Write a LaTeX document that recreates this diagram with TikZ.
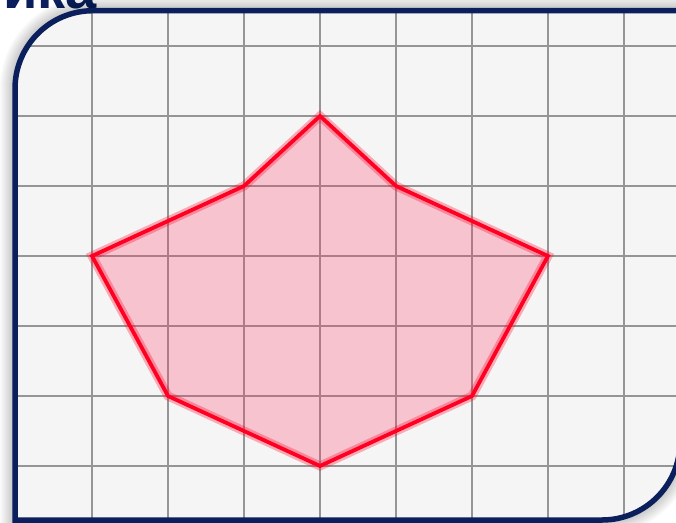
\documentclass[tikz,border=0pt]{standalone}
\usepackage{fontspec}
\setmainfont{Liberation Sans}
\definecolor{navy}{HTML}{0A1F5C}
\definecolor{gridc}{HTML}{959595}
\definecolor{panel}{HTML}{F5F5F5}
\definecolor{polyred}{HTML}{FF0022}
\definecolor{polyfill}{HTML}{FF3060}
\tikzset{
  gridline/.style={draw=gridc, line width=1.5pt},
  frame/.style={draw=navy, line width=5.5pt},
  polyglow/.style={draw=polyred, line width=9pt, opacity=0.3, line join=miter},
  polycore/.style={draw=polyred, line width=3.8pt, line join=miter},
  polyarea/.style={fill=polyfill, fill opacity=0.25},
  titletext/.style={text=navy, font=\bfseries\fontsize{56}{56}\selectfont, inner sep=0pt}
}
\def\boxpath{(15,520) -- (15,88.7) arc[start angle=180, end angle=270, radius=78] -- (680,10.7) -- (680,442) arc[start angle=0, end angle=90, radius=78] -- cycle}
\begin{document}
\begin{tikzpicture}[x=1pt,y=-1pt]
\useasboundingbox (0,0) rectangle (676,522);
\clip (0,0) rectangle (676,522);
\fill[white] (0,0) rectangle (676,522);
% title fragment (cut off by the top edge, as in the reference)
\node[titletext, anchor=base east] (title) at (97,9) {ика};
% soft shadow
\foreach \w in {3,6,...,30} {
  \draw[black, opacity=0.025, line width=\w pt] \boxpath;
}
% panel
\fill[panel] \boxpath;
% grid
\begin{scope}
  \clip \boxpath;
  \foreach \x in {16,92,...,700} { \draw[gridline] (\x,0) -- (\x,530); }
  \foreach \y in {46,116,...,540} { \draw[gridline] (0,\y) -- (700,\y); }
\end{scope}
% polygon
\coordinate (p1) at (320,116);
\coordinate (p2) at (396,186);
\coordinate (p3) at (548,256);
\coordinate (p4) at (472,396);
\coordinate (p5) at (320,466);
\coordinate (p6) at (168,396);
\coordinate (p7) at (92,256);
\coordinate (p8) at (244,186);
\fill[polyarea] (p1) -- (p2) -- (p3) -- (p4) -- (p5) -- (p6) -- (p7) -- (p8) -- cycle;
\draw[polyglow] (p1) -- (p2) -- (p3) -- (p4) -- (p5) -- (p6) -- (p7) -- (p8) -- cycle;
\draw[polycore] (p1) -- (p2) -- (p3) -- (p4) -- (p5) -- (p6) -- (p7) -- (p8) -- cycle;
% frame
\draw[frame] \boxpath;
\end{tikzpicture}
\end{document}
